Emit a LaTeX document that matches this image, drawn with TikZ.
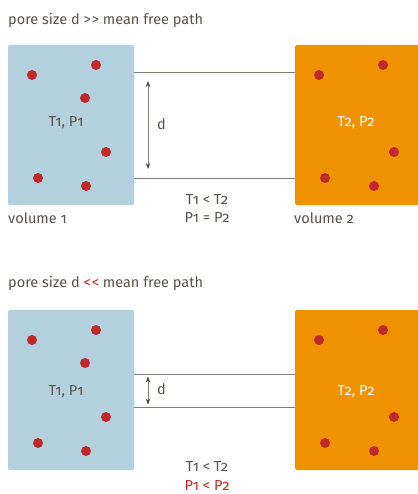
\documentclass[tikz,border=0pt]{standalone}
\usepackage{fontspec}
\setmainfont[Numbers=OldStyle]{Fira Sans}
\usetikzlibrary{arrows.meta}
\definecolor{txtgray}{HTML}{5A524B}
\definecolor{boxblue}{HTML}{B3D0DF}
\definecolor{boxorange}{HTML}{F09200}
\definecolor{dotred}{HTML}{C0282A}
\definecolor{linegray}{HTML}{857C72}
\definecolor{arrowdark}{HTML}{4A443C}
\tikzset{
  vol/.style={rectangle, rounded corners=1.5pt, inner sep=0pt, minimum width=126pt, minimum height=160pt},
  molecule/.style={circle, fill=dotred, inner sep=0pt, minimum size=10pt},
  lbl/.style={text=txtgray, font=\fontsize{14.5}{17}\selectfont, inner sep=0pt},
  pore/.style={draw=linegray, line width=0.9pt},
  darr/.style={draw=linegray, line width=0.9pt, {Stealth[length=6pt,width=4.5pt,color=arrowdark]}-{Stealth[length=6pt,width=4.5pt,color=arrowdark]}}
}
\begin{document}
\begin{tikzpicture}[x=1pt,y=-1pt]
\useasboundingbox (0,0) rectangle (417,494);
% ---------- top section ----------
\node[lbl, anchor=west] (t1) at (8,20) {pore size d >\kern1pt> mean free path};
\node[vol, fill=boxblue] (a1) at (71,125) {};
\node[vol, fill=boxorange, minimum width=124pt] (a2) at (357,125) {};
\coordinate (a1t) at (134,72); \coordinate (a2t) at (295,72);
\coordinate (a1b) at (134,178); \coordinate (a2b) at (295,178);
\draw[pore] (a1t) -- (a2t);
\draw[pore] (a1b) -- (a2b);
\coordinate (ad1) at (148,81); \coordinate (ad2) at (148,169);
\draw[darr] (ad1) -- (ad2);
\node[lbl, anchor=west] (ad) at (157,124) {d};
\foreach \x/\y [count=\i] in {32/75,96/65,85/98,106/152,38/178,86/186}
  \node[molecule] (am\i) at (\x,\y) {};
\foreach \x/\y [count=\i] in {319/75,383/65,394/152,325/178,374/186}
  \node[molecule] (bm\i) at (\x,\y) {};
\node[lbl] (atp1) at (66,123) {T1, P1};
\node[lbl, text=white] (atp2) at (356,123) {T2, P2};
\node[lbl, anchor=west] (av1) at (8,218) {volume 1};
\node[lbl, anchor=west] (av2) at (294,218) {volume 2};
\node[lbl] (ac1) at (207,200) {T1 < T2};
\node[lbl] (ac2) at (207,218) {P1 = P2};
% ---------- bottom section ----------
\node[lbl, anchor=west] (t2) at (8,283) {pore size d \textcolor{dotred}{<\kern1pt<} mean free path};
\node[vol, fill=boxblue] (b1) at (71,390) {};
\node[vol, fill=boxorange, minimum width=124pt] (b2) at (357,390) {};
\coordinate (b1t) at (134,374); \coordinate (b2t) at (295,374);
\coordinate (b1b) at (134,407); \coordinate (b2b) at (295,407);
\draw[pore] (b1t) -- (b2t);
\draw[pore] (b1b) -- (b2b);
\coordinate (bd1) at (148,376.5); \coordinate (bd2) at (148,404.5);
\draw[darr] (bd1) -- (bd2);
\node[lbl, anchor=west] (bd) at (157,389) {d};
\foreach \x/\y [count=\i] in {32/340,96/330,85/363,106/417,38/443,86/451}
  \node[molecule] (cm\i) at (\x,\y) {};
\foreach \x/\y [count=\i] in {319/340,383/330,394/417,325/443,374/451}
  \node[molecule] (dm\i) at (\x,\y) {};
\node[lbl] (btp1) at (66,392) {T1, P1};
\node[lbl, text=white] (btp2) at (356,392) {T2, P2};
\node[lbl] (bc1) at (207,466) {T1 < T2};
\node[lbl, text=dotred] (bc2) at (207,485) {P1 < P2};
\end{tikzpicture}
\end{document}
